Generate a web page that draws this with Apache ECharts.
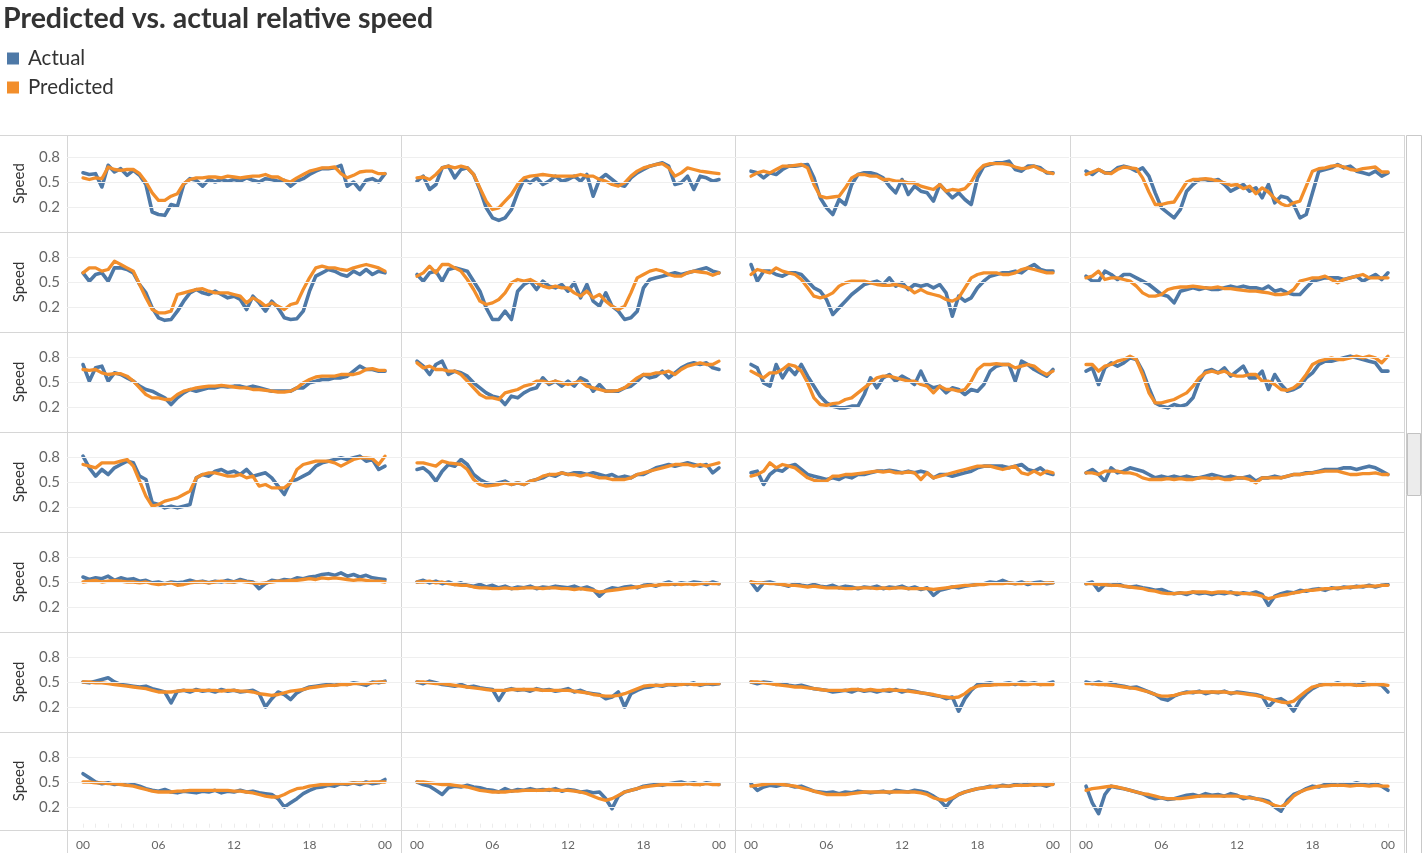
<!DOCTYPE html>
<html><head><meta charset="utf-8">
<script src="https://cdn.jsdelivr.net/npm/echarts@6/dist/echarts.min.js"></script>
<style>html,body{margin:0;padding:0;background:#fff}#c{width:1423px;height:853px}</style>
</head><body><div id="c"></div>
<script>
const TITLE = 'Predicted vs. actual relative speed';
const SERIES_NAMES = ['Actual', 'Predicted'];
const HOURS = [0,.5,1,1.5,2,2.5,3,3.5,4,4.5,5,5.5,6,6.5,7,7.5,8,8.5,9,9.5,10,10.5,11,11.5,12,12.5,13,13.5,14,14.5,15,15.5,16,16.5,17,17.5,18,18.5,19,19.5,20,20.5,21,21.5,22,22.5,23,23.5,24];
const X_TICK_HOURS = [0,6,12,18,24];
const X_TICK_LABELS = ['00','06','12','18','00'];
const Y_TICKS = [0.2,0.5,0.8];
const Y_AXIS_NAME = 'Speed';

// Row 1
const A11 = [.61,.59,.60,.44,.70,.62,.66,.58,.64,.58,.47,.14,.11,.10,.23,.21,.47,.54,.52,.45,.53,.50,.53,.51,.53,.51,.55,.52,.50,.54,.53,.51,.52,.45,.51,.54,.59,.63,.66,.66,.67,.70,.45,.50,.41,.52,.54,.50,.60];
const P11 = [.55,.53,.55,.54,.68,.65,.64,.65,.65,.60,.50,.37,.28,.28,.33,.36,.48,.53,.55,.55,.56,.56,.55,.57,.56,.55,.56,.57,.57,.59,.56,.56,.52,.50,.55,.59,.63,.65,.67,.67,.68,.60,.55,.58,.62,.63,.63,.60,.60];
const A12 = [.51,.57,.41,.47,.67,.69,.55,.65,.67,.59,.41,.19,.07,.04,.07,.17,.37,.53,.49,.55,.47,.51,.57,.51,.53,.57,.51,.59,.33,.53,.59,.53,.47,.45,.55,.61,.65,.69,.71,.73,.69,.47,.49,.57,.41,.57,.55,.51,.53];
const P12 = [.55,.56,.53,.59,.67,.69,.67,.69,.67,.59,.43,.27,.17,.19,.27,.35,.47,.55,.57,.58,.59,.58,.57,.57,.57,.57,.59,.57,.57,.53,.51,.47,.45,.49,.57,.63,.67,.69,.71,.72,.67,.57,.61,.67,.65,.63,.62,.61,.60];
const A13 = [.63,.61,.55,.61,.59,.65,.69,.69,.70,.71,.55,.31,.19,.11,.29,.23,.47,.59,.61,.61,.59,.55,.45,.37,.53,.35,.45,.39,.37,.27,.47,.39,.31,.37,.29,.23,.55,.69,.71,.73,.73,.75,.65,.63,.69,.69,.67,.61,.61];
const P13 = [.57,.61,.63,.61,.65,.69,.69,.70,.71,.67,.47,.33,.31,.32,.33,.43,.55,.59,.59,.57,.57,.53,.53,.51,.51,.49,.49,.45,.43,.41,.47,.39,.41,.40,.42,.50,.63,.70,.72,.72,.72,.71,.68,.66,.67,.69,.65,.62,.60];
const A14 = [.63,.59,.65,.61,.61,.67,.69,.67,.63,.67,.57,.37,.19,.13,.07,.17,.39,.47,.53,.53,.51,.53,.47,.39,.43,.47,.39,.43,.31,.47,.25,.33,.31,.23,.07,.11,.37,.63,.65,.67,.71,.67,.69,.63,.61,.59,.63,.57,.61];
const P14 = [.59,.62,.65,.61,.60,.65,.68,.67,.66,.55,.38,.23,.23,.25,.26,.38,.50,.53,.53,.54,.53,.51,.49,.46,.47,.42,.45,.36,.43,.38,.30,.24,.21,.25,.27,.45,.63,.66,.67,.69,.70,.68,.65,.64,.66,.67,.68,.62,.62];
// Row 2
const A21 = [.61,.51,.59,.61,.51,.67,.67,.65,.61,.47,.37,.19,.07,.04,.05,.15,.27,.37,.41,.37,.35,.39,.35,.31,.33,.29,.17,.33,.25,.15,.27,.19,.07,.05,.06,.15,.39,.57,.61,.65,.63,.59,.57,.63,.59,.65,.59,.63,.61];
const P21 = [.61,.67,.67,.63,.65,.75,.71,.67,.63,.47,.31,.17,.13,.13,.15,.35,.37,.39,.41,.42,.39,.37,.37,.37,.35,.33,.25,.31,.27,.21,.25,.21,.17,.23,.25,.41,.55,.67,.69,.67,.67,.65,.64,.67,.69,.71,.69,.67,.63];
const A22 = [.59,.51,.61,.63,.51,.65,.67,.65,.63,.51,.39,.19,.05,.05,.15,.05,.39,.47,.51,.41,.51,.45,.43,.47,.39,.49,.31,.47,.27,.21,.37,.21,.15,.05,.07,.15,.43,.53,.55,.57,.59,.61,.59,.61,.63,.65,.67,.63,.61];
const P22 = [.57,.61,.69,.61,.71,.71,.67,.63,.53,.41,.27,.23,.25,.29,.37,.49,.53,.51,.53,.49,.45,.43,.45,.43,.43,.37,.33,.39,.31,.35,.27,.21,.17,.21,.37,.55,.59,.63,.65,.63,.59,.57,.57,.61,.63,.62,.61,.58,.61];
const A23 = [.71,.51,.63,.63,.59,.57,.61,.61,.59,.51,.43,.39,.29,.11,.19,.27,.35,.41,.47,.49,.51,.47,.55,.45,.49,.41,.47,.45,.47,.43,.47,.37,.09,.33,.27,.31,.43,.51,.57,.59,.61,.61,.63,.61,.67,.71,.65,.63,.63];
const P23 = [.59,.65,.63,.61,.67,.63,.61,.59,.53,.43,.33,.31,.33,.37,.45,.49,.51,.51,.51,.49,.47,.46,.46,.47,.45,.43,.37,.41,.37,.35,.33,.29,.27,.31,.43,.55,.59,.61,.61,.61,.59,.59,.61,.65,.67,.65,.63,.61,.61];
const A24 = [.57,.51,.51,.63,.59,.53,.59,.59,.55,.51,.47,.41,.35,.33,.25,.39,.41,.43,.41,.43,.41,.41,.43,.45,.43,.45,.43,.43,.41,.45,.39,.41,.37,.35,.35,.43,.51,.53,.55,.55,.55,.53,.55,.57,.51,.55,.59,.53,.61];
const P24 = [.55,.57,.63,.53,.55,.55,.53,.51,.45,.37,.33,.33,.35,.41,.43,.44,.44,.45,.44,.43,.43,.44,.42,.42,.41,.40,.39,.39,.38,.37,.35,.35,.36,.41,.51,.53,.55,.55,.57,.53,.49,.53,.55,.57,.59,.55,.55,.55,.55];
// Row 3
const A31 = [.71,.51,.67,.69,.51,.61,.59,.55,.51,.45,.41,.39,.35,.31,.23,.31,.37,.41,.39,.41,.43,.43,.45,.44,.45,.45,.43,.45,.43,.41,.39,.39,.39,.39,.43,.43,.49,.51,.53,.53,.55,.55,.57,.63,.69,.65,.65,.63,.63];
const P31 = [.65,.64,.65,.61,.59,.60,.60,.57,.51,.43,.35,.31,.31,.29,.29,.35,.39,.41,.43,.44,.45,.45,.46,.45,.44,.43,.43,.41,.41,.40,.39,.38,.38,.39,.43,.49,.53,.56,.57,.57,.57,.59,.59,.59,.61,.65,.66,.64,.64];
const A32 = [.75,.69,.59,.71,.75,.59,.63,.61,.57,.49,.43,.37,.33,.31,.23,.33,.31,.37,.41,.43,.55,.47,.51,.45,.51,.45,.55,.51,.39,.47,.39,.39,.39,.43,.45,.51,.59,.55,.57,.63,.55,.61,.67,.71,.73,.71,.73,.67,.65];
const P32 = [.73,.67,.69,.65,.65,.63,.63,.59,.51,.43,.35,.31,.31,.29,.37,.39,.41,.45,.47,.51,.51,.49,.51,.49,.47,.49,.51,.45,.43,.41,.39,.39,.40,.43,.49,.55,.59,.59,.61,.61,.63,.59,.65,.69,.71,.73,.71,.71,.75];
const A33 = [.71,.67,.49,.45,.71,.55,.67,.59,.71,.57,.45,.33,.25,.21,.19,.19,.21,.21,.35,.55,.43,.55,.59,.51,.57,.53,.47,.63,.47,.43,.45,.37,.43,.41,.35,.41,.39,.47,.63,.69,.71,.71,.51,.75,.71,.65,.61,.57,.65];
const P33 = [.63,.59,.55,.61,.61,.65,.71,.69,.63,.49,.31,.23,.22,.24,.25,.29,.31,.37,.43,.49,.55,.57,.57,.55,.53,.51,.51,.47,.45,.37,.45,.41,.41,.39,.41,.51,.65,.71,.71,.72,.71,.71,.67,.69,.71,.69,.63,.59,.63];
const A34 = [.63,.67,.47,.67,.73,.69,.73,.79,.77,.63,.43,.25,.21,.19,.23,.21,.23,.31,.51,.63,.65,.61,.67,.57,.63,.69,.55,.55,.63,.41,.59,.47,.39,.41,.45,.55,.61,.71,.75,.75,.77,.79,.81,.79,.77,.75,.73,.63,.63];
const P34 = [.71,.71,.63,.69,.71,.75,.77,.81,.77,.59,.37,.25,.25,.27,.29,.33,.37,.45,.55,.61,.63,.61,.63,.59,.57,.57,.59,.59,.51,.51,.47,.41,.40,.43,.49,.59,.71,.75,.77,.79,.77,.77,.79,.81,.79,.81,.79,.73,.81];
// Row 4
const A41 = [.81,.67,.57,.65,.59,.67,.71,.75,.73,.57,.53,.25,.23,.19,.21,.19,.21,.23,.55,.59,.57,.63,.65,.61,.63,.59,.65,.57,.59,.61,.55,.45,.35,.51,.53,.57,.61,.69,.73,.75,.77,.79,.77,.79,.81,.75,.77,.65,.69];
const P41 = [.71,.69,.67,.73,.73,.73,.75,.77,.69,.51,.33,.21,.23,.27,.29,.31,.35,.39,.55,.59,.61,.61,.59,.57,.57,.59,.55,.57,.45,.47,.43,.43,.43,.49,.65,.71,.73,.75,.75,.75,.73,.69,.73,.77,.79,.79,.78,.71,.81];
const A42 = [.65,.67,.61,.51,.63,.71,.69,.77,.71,.59,.53,.49,.47,.49,.51,.47,.49,.47,.51,.53,.55,.59,.57,.61,.59,.61,.61,.59,.61,.59,.57,.59,.55,.57,.55,.59,.59,.63,.67,.69,.71,.69,.71,.73,.71,.69,.71,.61,.67];
const P42 = [.73,.73,.71,.69,.75,.73,.72,.71,.65,.53,.47,.45,.46,.47,.49,.47,.49,.47,.51,.53,.57,.59,.59,.61,.59,.59,.57,.59,.57,.55,.55,.53,.53,.53,.55,.59,.61,.63,.65,.67,.69,.71,.71,.71,.69,.71,.69,.71,.73];
const A43 = [.61,.63,.47,.59,.65,.63,.69,.71,.65,.59,.57,.55,.53,.55,.53,.57,.55,.59,.59,.61,.63,.63,.64,.63,.61,.63,.61,.63,.61,.55,.59,.59,.57,.59,.61,.63,.67,.69,.69,.69,.69,.67,.69,.71,.65,.63,.67,.61,.59];
const P43 = [.57,.59,.63,.73,.67,.71,.69,.67,.61,.55,.52,.51,.51,.57,.57,.59,.59,.60,.61,.62,.63,.62,.63,.61,.61,.62,.61,.53,.61,.55,.57,.59,.61,.63,.65,.67,.69,.69,.69,.67,.65,.67,.69,.61,.59,.63,.59,.63,.61];
const A44 = [.61,.65,.59,.51,.67,.61,.63,.67,.65,.63,.59,.55,.57,.55,.57,.55,.57,.55,.55,.57,.59,.57,.55,.57,.55,.55,.57,.51,.55,.55,.57,.55,.57,.59,.59,.61,.61,.63,.65,.65,.65,.67,.67,.65,.67,.69,.67,.63,.59];
const P44 = [.61,.61,.59,.63,.63,.63,.61,.61,.59,.55,.53,.53,.53,.54,.53,.54,.53,.53,.55,.55,.54,.55,.53,.53,.55,.55,.53,.49,.55,.55,.55,.55,.57,.59,.59,.60,.61,.62,.63,.63,.63,.61,.59,.59,.60,.60,.61,.59,.59];
// Row 5
const A51 = [.56,.53,.55,.54,.57,.52,.55,.53,.54,.51,.52,.49,.50,.48,.50,.49,.50,.52,.50,.51,.49,.51,.50,.52,.50,.53,.51,.50,.42,.48,.52,.51,.53,.52,.55,.54,.56,.57,.59,.60,.58,.61,.57,.59,.56,.58,.55,.54,.53];
const P51 = [.50,.51,.52,.50,.51,.52,.51,.50,.50,.49,.50,.48,.47,.48,.49,.46,.47,.49,.50,.50,.49,.50,.51,.50,.50,.51,.50,.49,.48,.49,.50,.51,.51,.52,.52,.53,.54,.53,.55,.54,.55,.54,.53,.52,.53,.52,.51,.51,.50];
const A52 = [.50,.52,.49,.51,.48,.50,.47,.49,.46,.45,.47,.44,.46,.43,.45,.42,.44,.43,.45,.42,.44,.43,.45,.44,.43,.45,.42,.44,.41,.33,.40,.43,.42,.44,.45,.43,.46,.47,.45,.48,.50,.47,.49,.48,.50,.49,.47,.50,.48];
const P52 = [.50,.50,.51,.49,.50,.48,.47,.46,.46,.44,.43,.43,.42,.42,.43,.42,.42,.43,.43,.43,.42,.43,.43,.42,.42,.41,.42,.41,.40,.38,.39,.40,.41,.42,.43,.44,.45,.46,.46,.47,.47,.48,.47,.48,.47,.48,.49,.48,.48];
const A53 = [.50,.40,.49,.50,.48,.47,.45,.48,.46,.45,.47,.45,.44,.46,.43,.45,.44,.42,.44,.43,.45,.42,.44,.43,.45,.42,.44,.41,.43,.34,.40,.42,.44,.43,.45,.46,.47,.48,.50,.49,.52,.49,.48,.50,.47,.49,.50,.48,.49];
const P53 = [.50,.49,.49,.48,.48,.47,.46,.46,.45,.44,.45,.44,.43,.43,.43,.42,.42,.43,.43,.43,.42,.43,.42,.43,.43,.42,.42,.42,.42,.41,.42,.43,.44,.45,.46,.46,.47,.47,.48,.48,.48,.49,.48,.48,.49,.48,.48,.49,.49];
const A54 = [.48,.50,.40,.47,.46,.48,.45,.44,.45,.43,.42,.40,.41,.38,.36,.37,.35,.38,.36,.37,.35,.37,.36,.38,.35,.37,.36,.38,.35,.22,.33,.36,.38,.37,.40,.39,.41,.42,.40,.43,.42,.44,.43,.45,.44,.46,.44,.46,.47];
const P54 = [.48,.48,.47,.47,.46,.46,.45,.44,.43,.42,.40,.39,.37,.36,.36,.37,.37,.38,.38,.38,.37,.38,.38,.37,.37,.36,.36,.35,.33,.30,.32,.34,.35,.37,.38,.40,.40,.41,.42,.42,.43,.43,.44,.44,.45,.45,.45,.46,.46];
// Row 6
const A61 = [.50,.49,.51,.53,.55,.50,.47,.46,.45,.44,.45,.42,.40,.38,.25,.39,.40,.38,.41,.39,.40,.38,.41,.39,.40,.38,.39,.40,.36,.20,.30,.38,.35,.29,.37,.41,.44,.45,.46,.47,.46,.48,.47,.49,.48,.46,.50,.49,.51];
const P61 = [.50,.50,.49,.49,.48,.47,.46,.45,.44,.43,.42,.40,.38,.38,.38,.39,.40,.40,.40,.40,.40,.40,.39,.40,.40,.39,.39,.38,.36,.35,.34,.35,.37,.39,.40,.41,.43,.44,.45,.46,.46,.47,.47,.48,.48,.48,.49,.50,.50];
const A62 = [.50,.48,.51,.49,.47,.46,.45,.47,.44,.45,.43,.42,.41,.28,.40,.42,.40,.41,.39,.42,.40,.41,.39,.40,.42,.38,.40,.37,.36,.35,.30,.32,.38,.20,.36,.40,.43,.44,.46,.45,.47,.46,.48,.47,.49,.46,.48,.47,.48];
const P62 = [.50,.50,.49,.48,.48,.47,.46,.45,.44,.43,.42,.41,.40,.40,.40,.41,.41,.41,.41,.41,.40,.40,.40,.40,.40,.39,.38,.37,.35,.34,.33,.33,.34,.36,.39,.42,.45,.46,.46,.46,.47,.47,.47,.48,.47,.47,.48,.48,.48];
const A63 = [.50,.48,.50,.49,.47,.48,.46,.45,.46,.44,.42,.41,.40,.38,.39,.40,.38,.41,.39,.40,.38,.40,.39,.41,.38,.40,.39,.37,.36,.34,.33,.30,.32,.15,.30,.40,.47,.48,.49,.47,.48,.49,.47,.50,.48,.49,.47,.48,.50];
const P63 = [.50,.50,.49,.48,.47,.46,.45,.44,.44,.43,.42,.41,.40,.40,.40,.40,.41,.41,.40,.41,.40,.40,.41,.40,.40,.39,.38,.37,.36,.35,.33,.32,.31,.32,.36,.42,.45,.46,.46,.47,.47,.47,.48,.47,.47,.48,.47,.47,.47];
const A64 = [.50,.48,.50,.47,.49,.46,.45,.43,.44,.41,.38,.35,.30,.28,.33,.36,.38,.37,.39,.36,.38,.37,.39,.36,.38,.37,.36,.35,.33,.20,.28,.30,.25,.15,.28,.36,.42,.46,.48,.47,.49,.47,.48,.46,.49,.47,.48,.46,.38];
const P64 = [.48,.48,.47,.47,.46,.45,.44,.43,.42,.40,.38,.35,.33,.33,.34,.36,.37,.38,.38,.38,.38,.38,.38,.37,.37,.36,.35,.34,.32,.30,.28,.26,.25,.27,.33,.39,.44,.46,.47,.47,.47,.47,.47,.46,.46,.47,.47,.47,.46];
// Row 7
const A71 = [.60,.55,.50,.48,.49,.47,.48,.46,.47,.45,.42,.40,.39,.41,.38,.37,.39,.38,.37,.39,.38,.40,.37,.39,.38,.40,.38,.39,.37,.36,.35,.30,.20,.25,.30,.36,.40,.43,.44,.46,.45,.48,.47,.49,.47,.50,.48,.49,.53];
const P71 = [.50,.50,.49,.49,.48,.48,.47,.46,.45,.43,.41,.39,.38,.38,.38,.39,.39,.40,.40,.40,.40,.40,.40,.40,.39,.39,.38,.37,.35,.33,.32,.32,.35,.39,.42,.43,.45,.46,.47,.47,.48,.48,.48,.49,.49,.49,.50,.50,.50];
const A72 = [.50,.47,.45,.40,.35,.43,.45,.44,.46,.44,.43,.41,.40,.38,.42,.39,.41,.40,.42,.40,.41,.40,.42,.39,.41,.40,.38,.39,.37,.38,.30,.18,.33,.38,.40,.42,.45,.46,.47,.46,.48,.49,.50,.48,.49,.47,.49,.48,.47];
const P72 = [.50,.50,.49,.48,.47,.47,.46,.45,.44,.42,.40,.39,.38,.38,.38,.39,.39,.40,.40,.40,.40,.41,.40,.40,.40,.39,.38,.36,.33,.30,.28,.30,.34,.38,.40,.42,.44,.45,.46,.47,.47,.47,.47,.48,.47,.47,.48,.47,.47];
const A73 = [.48,.40,.44,.46,.45,.47,.46,.44,.45,.42,.39,.38,.37,.38,.36,.38,.37,.39,.38,.37,.38,.39,.37,.40,.39,.38,.40,.39,.37,.33,.28,.20,.30,.35,.38,.40,.42,.43,.45,.44,.46,.45,.47,.46,.48,.46,.47,.45,.48];
const P73 = [.45,.46,.47,.48,.48,.47,.46,.45,.43,.41,.39,.37,.35,.35,.35,.35,.36,.37,.38,.38,.38,.38,.38,.38,.38,.38,.38,.37,.35,.31,.29,.28,.31,.35,.38,.40,.42,.43,.44,.45,.45,.45,.46,.46,.46,.47,.47,.47,.47];
const A74 = [.45,.25,.12,.35,.45,.43,.42,.40,.38,.36,.32,.30,.31,.29,.30,.32,.34,.35,.33,.36,.34,.35,.33,.36,.34,.30,.32,.30,.29,.27,.20,.15,.28,.35,.38,.42,.45,.44,.47,.48,.46,.48,.47,.49,.47,.46,.48,.45,.40];
const P74 = [.40,.42,.43,.44,.45,.44,.42,.40,.38,.36,.35,.33,.31,.30,.30,.30,.31,.32,.33,.33,.33,.33,.33,.33,.33,.32,.31,.30,.28,.25,.22,.20,.25,.33,.38,.41,.43,.45,.45,.46,.46,.46,.45,.46,.46,.45,.46,.45,.45];

const PANELS = [
  [A11,P11],[A12,P12],[A13,P13],[A14,P14],
  [A21,P21],[A22,P22],[A23,P23],[A24,P24],
  [A31,P31],[A32,P32],[A33,P33],[A34,P34],
  [A41,P41],[A42,P42],[A43,P43],[A44,P44],
  [A51,P51],[A52,P52],[A53,P53],[A54,P54],
  [A61,P61],[A62,P62],[A63,P63],[A64,P64],
  [A71,P71],[A72,P72],[A73,P73],[A74,P74]
];

// ---------- layout (pixels) ----------
const COL_X = [67, 401, 735, 1070];
const COL_W = 334;
const ROW_TOP = [135, 232, 332, 432, 532, 632, 732];
const ROW_BOT = [232, 332, 432, 532, 632, 732, 830];
const ROW_MID = [182, 282, 382, 482, 582, 682, 782]; // pixel of y = 0.5
const PX_PER_UNIT = 250 / 3;
const X_PAD = 16, X_PX_PER_H = 302 / 24;
const BLUE = '#4e79a7', ORANGE = '#f28e2b';
const FONT = 'Lato, "Open Sans", sans-serif';
const LINE_C = '#d6d6d6';

const grids = [], xAxes = [], yAxes = [], series = [];
PANELS.forEach((p, k) => {
  const r = Math.floor(k / 4), c = k % 4;
  const top = ROW_TOP[r], bot = ROW_BOT[r], mid = ROW_MID[r];
  grids.push({left: COL_X[c], top: top, width: COL_W, height: bot - top, containLabel: false});
  const bottomRow = r === ROW_TOP.length - 1;
  xAxes.push({
    type: 'value', gridIndex: k,
    min: -X_PAD / X_PX_PER_H, max: 24 + X_PAD / X_PX_PER_H,
    axisLine: {show: false}, splitLine: {show: false},
    axisTick: {show: bottomRow, customValues: HOURS.filter(h => h % 1 === 0), length: 4, lineStyle: {color: '#ececec'}},
    axisLabel: {show: bottomRow, customValues: X_TICK_HOURS, margin: 9, fontSize: 12, color: '#666', fontFamily: FONT,
      formatter: v => X_TICK_LABELS[X_TICK_HOURS.indexOf(v)]}
  });
  yAxes.push({
    type: 'value', gridIndex: k,
    min: 0.5 - (bot - mid) / PX_PER_UNIT, max: 0.5 + (mid - top) / PX_PER_UNIT,
    axisLine: {show: false}, axisTick: {show: false}, splitLine: {show: false},
    axisLabel: {show: c === 0, customValues: Y_TICKS, margin: 7, fontSize: 15, color: '#666', fontFamily: FONT,
      formatter: v => v.toFixed(1)},
    name: c === 0 ? Y_AXIS_NAME : '', nameLocation: 'middle', nameRotate: 90, nameGap: 40,
    nameTextStyle: {fontSize: 15, color: '#333', fontFamily: FONT}
  });
  series.push({
    type: 'line', name: 'grid' + k, xAxisIndex: k, yAxisIndex: k, data: [], silent: true, z: 1,
    markLine: {silent: true, symbol: 'none', label: {show: false}, animation: false,
      lineStyle: {color: '#efefef', width: 1, type: 'solid'},
      data: Y_TICKS.map(v => ({yAxis: v}))}
  });
  series.push({
    type: 'line', name: SERIES_NAMES[0], xAxisIndex: k, yAxisIndex: k, z: 2,
    data: HOURS.map((h, i) => [h, p[0][i]]), symbol: 'none', silent: true,
    lineStyle: {color: BLUE, width: 3.6, join: 'round', cap: 'round'}, itemStyle: {color: BLUE}
  });
  series.push({
    type: 'line', name: SERIES_NAMES[1], xAxisIndex: k, yAxisIndex: k, z: 3,
    data: HOURS.map((h, i) => [h, p[1][i]]), symbol: 'none', silent: true,
    lineStyle: {color: ORANGE, width: 3.3, join: 'round', cap: 'round'}, itemStyle: {color: ORANGE}
  });
});

const graphics = [];
const hLines = ROW_TOP.concat([ROW_BOT[ROW_BOT.length - 1]]);
hLines.forEach(y => graphics.push({type: 'line', silent: true, z: 0,
  shape: {x1: 0, y1: y + 0.5, x2: COL_X[3] + COL_W, y2: y + 0.5}, style: {stroke: LINE_C, lineWidth: 1}}));
COL_X.concat([COL_X[3] + COL_W]).forEach(x => graphics.push({type: 'line', silent: true, z: 0,
  shape: {x1: x + 0.5, y1: ROW_TOP[0], x2: x + 0.5, y2: 853}, style: {stroke: LINE_C, lineWidth: 1}}));
// scrollbar
graphics.push({type: 'rect', silent: true, shape: {x: 1406.5, y: 135.5, width: 15, height: 720},
  style: {fill: '#fff', stroke: '#c9c9c9', lineWidth: 1}});
graphics.push({type: 'rect', silent: true, shape: {x: 1407.5, y: 433.5, width: 13, height: 62},
  style: {fill: '#ececec', stroke: '#c2c2c2', lineWidth: 1}});

const chart = echarts.init(document.getElementById('c'));
chart.setOption({
  animation: false,
  backgroundColor: '#fff',
  title: {text: TITLE, left: 3, top: 4, padding: 0,
    textStyle: {fontSize: 28.5, fontWeight: 'bold', color: '#333', fontFamily: FONT}},
  legend: {data: SERIES_NAMES, orient: 'vertical', left: 7, top: 48, padding: 0, itemGap: 8,
    icon: 'rect', itemWidth: 12, itemHeight: 12, selectedMode: false,
    textStyle: {fontSize: 20.5, lineHeight: 20, color: '#333', fontFamily: FONT, padding: [0, 0, 0, 4]}},
  grid: grids, xAxis: xAxes, yAxis: yAxes, series: series, graphic: graphics
});
</script>
</body></html>
